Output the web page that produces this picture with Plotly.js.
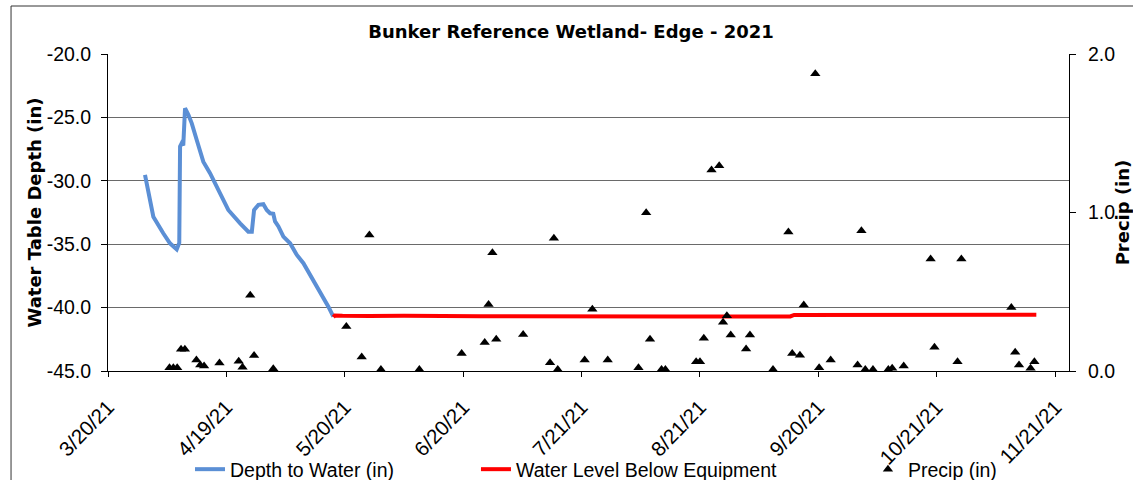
<!DOCTYPE html>
<html>
<head>
<meta charset="utf-8">
<script src="https://cdn.plot.ly/plotly-3.0.1.min.js"></script>
<style>html,body{margin:0;padding:0;background:#fff;} #chart{width:1133px;height:480px;}</style>
</head>
<body>
<div id="chart"></div>
<script>
// ---- Depth to Water (in) ----
const depthDates = ['2021-03-29 15:00','2021-03-31 19:00','2021-04-03 09:00','2021-04-05 03:00','2021-04-06 21:00','2021-04-07 13:00','2021-04-07 18:00','2021-04-08 04:00','2021-04-08 14:00','2021-04-08 19:00','2021-04-09 01:00','2021-04-09 22:00','2021-04-10 19:00','2021-04-12 02:00','2021-04-13 19:00','2021-04-15 13:00','2021-04-17 17:00','2021-04-20 07:00','2021-04-23 09:00','2021-04-25 12:00','2021-04-26 10:00','2021-04-27 00:00','2021-04-28 03:00','2021-04-29 10:00','2021-04-30 07:00','2021-05-01 04:00','2021-05-02 00:00','2021-05-02 11:00','2021-05-03 08:00','2021-05-04 15:00','2021-05-06 09:00','2021-05-08 03:00','2021-05-09 20:00','2021-05-11 14:00','2021-05-13 08:00','2021-05-15 01:00','2021-05-16 08:00','2021-05-17 15:00'];
const depthValues = [-29.54,-32.83,-34.14,-34.93,-35.4,-34.9,-27.3,-27.04,-27.2,-24.4,-24.28,-24.8,-25.47,-26.78,-28.49,-29.4,-30.72,-32.3,-33.35,-34.01,-34.01,-32.3,-31.9,-31.85,-32.3,-32.56,-32.6,-33.2,-33.6,-34.4,-34.93,-35.85,-36.5,-37.43,-38.22,-39.27,-39.93,-40.72];

// ---- Water Level Below Equipment ----
const equipDates = ['2021-05-17 15:00','2021-05-18 00:00','2021-05-20 00:00','2021-05-24 00:00','2021-05-27 00:00','2021-06-05 00:00','2021-06-10 00:00','2021-06-15 00:00','2021-06-25 00:00','2021-07-05 00:00','2021-07-13 00:00','2021-07-20 00:00','2021-08-01 00:00','2021-08-15 00:00','2021-09-01 00:00','2021-09-13 12:00','2021-09-14 12:00','2021-10-01 00:00','2021-10-20 00:00','2021-11-05 00:00','2021-11-16 12:00'];
const equipValues = [-40.75,-40.62,-40.65,-40.62,-40.66,-40.64,-40.68,-40.66,-40.68,-40.67,-40.68,-40.66,-40.7,-40.7,-40.7,-40.7,-40.58,-40.56,-40.56,-40.56,-40.56];

// ---- Precip (in) ----
const precipDates = ['2021-04-05','2021-04-06','2021-04-07','2021-04-08','2021-04-09','2021-04-12','2021-04-13','2021-04-14','2021-04-18','2021-04-23','2021-04-24','2021-04-26','2021-04-27','2021-05-02','2021-05-21','2021-05-25','2021-05-27','2021-05-30','2021-06-09','2021-06-20','2021-06-26','2021-06-27','2021-06-28','2021-06-29','2021-07-06','2021-07-13','2021-07-14','2021-07-15','2021-07-22','2021-07-24','2021-07-28','2021-08-05','2021-08-07','2021-08-08','2021-08-11','2021-08-12','2021-08-20','2021-08-21','2021-08-22','2021-08-24','2021-08-26','2021-08-27','2021-08-28','2021-08-29','2021-09-02','2021-09-03','2021-09-09','2021-09-13','2021-09-14','2021-09-16','2021-09-17','2021-09-20','2021-09-21','2021-09-24','2021-10-01','2021-10-02','2021-10-03','2021-10-05','2021-10-09','2021-10-10','2021-10-13','2021-10-20','2021-10-21','2021-10-27','2021-10-28','2021-11-10','2021-11-11','2021-11-12','2021-11-15','2021-11-16'];
const precipValues = [0.02,0.02,0.02,0.138,0.138,0.069,0.038,0.032,0.05,0.061,0.024,0.478,0.098,0.014,0.28,0.089,0.858,0.01,0.01,0.11,0.18,0.42,0.746,0.2,0.23,0.052,0.837,0.01,0.069,0.39,0.069,0.021,0.999,0.2,0.01,0.01,0.059,0.059,0.206,1.268,1.295,0.307,0.349,0.227,0.139,0.227,0.01,0.877,0.11,0.1,0.416,1.876,0.021,0.069,0.038,0.885,0.01,0.01,0.01,0.017,0.032,0.707,0.15,0.059,0.707,0.4,0.118,0.038,0.017,0.059];

// ---- Axis ticks ----
const xTickVals = ['2021-03-20 00:00','2021-04-19 18:00','2021-05-20 15:00','2021-06-20 10:00','2021-07-21 05:00','2021-08-21 00:00','2021-09-20 19:00','2021-10-21 13:00','2021-11-21 12:00'];
const xTickText = ['3/20/21','4/19/21','5/20/21','6/20/21','7/21/21','8/21/21','9/20/21','10/21/21','11/21/21'];
const yTickVals = [-45,-40,-35,-30,-25,-20];
const yTickText = ['-45.0','-40.0','-35.0','-30.0','-25.0','-20.0'];
const y2TickVals = [0,1,2];
const y2TickText = ['0.0','1.0','2.0'];

const regFont = 'Liberation Sans, Arial, sans-serif';
const boldFont = 'DejaVu Sans, sans-serif';

const traces = [
  {x: depthDates, y: depthValues, type:'scatter', mode:'lines', name:'Depth to Water (in)',
   line:{color:'#5B8FD5', width:4}, legend:'legend'},
  {x: equipDates, y: equipValues, type:'scatter', mode:'lines', name:'Water Level Below Equipment',
   line:{color:'#FF0000', width:4}, legend:'legend2'},
  {x: precipDates, y: precipValues, type:'scatter', mode:'markers', name:'Precip (in)', yaxis:'y2',
   marker:{symbol:'triangle-up', size:9, color:'#000'}, cliponaxis:false, legend:'legend3'}
];

const legendBase = {orientation:'h', yanchor:'middle', xanchor:'left', y:-0.3107,
  bgcolor:'rgba(0,0,0,0)', borderwidth:0, font:{family:regFont, size:19.5, color:'#000'}};

const layout = {
  width:1133, height:480,
  margin:{l:108, r:64, t:54, b:109, pad:0, autoexpand:false},
  paper_bgcolor:'#fff', plot_bgcolor:'#fff',
  font:{family:regFont, size:19.5, color:'#000'},
  showlegend:true,
  title:{text:'Bunker Reference Wetland- Edge - 2021', font:{family:boldFont, size:18, weight:'bold', color:'#000'},
    xref:'paper', x:0.4818, xanchor:'center', yref:'container', y:0.935, yanchor:'middle'},
  xaxis:{type:'date', range:['2021-03-20','2021-11-25'], tickmode:'array', tickvals:xTickVals, ticktext:xTickText,
    tickangle:-46, ticks:'outside', ticklen:5, tickcolor:'#000', showline:true, linecolor:'#000', linewidth:1,
    showgrid:false, zeroline:false, automargin:false, ticklabelstandoff:10, tickfont:{family:regFont, size:20.5}, fixedrange:true},
  yaxis:{range:[-45,-20], tickmode:'array', tickvals:yTickVals, ticktext:yTickText, ticks:'outside', ticklen:6, tickcolor:'#000',
    showline:true, linecolor:'#000', linewidth:1, showgrid:true, gridcolor:'#6a6a6a', gridwidth:1, zeroline:false,
    automargin:false, ticklabelstandoff:6, tickfont:{family:regFont, size:19.5},
    title:{text:'Water Table Depth (in)', font:{family:boldFont, size:18, weight:'bold'}, standoff:0}},
  yaxis2:{overlaying:'y', side:'right', range:[0,2], tickmode:'array', tickvals:y2TickVals, ticktext:y2TickText,
    ticks:'outside', ticklen:6, tickcolor:'#000', showline:true, linecolor:'#000', linewidth:1, showgrid:false, zeroline:false,
    automargin:false, ticklabelstandoff:8, tickfont:{family:regFont, size:19.5},
    title:{text:'Precip (in)', font:{family:boldFont, size:18, weight:'bold'}, standoff:15}},
  legend: Object.assign({}, legendBase, {x:0.0853}),
  legend2: Object.assign({}, legendBase, {x:0.3829}),
  legend3: Object.assign({}, legendBase, {x:0.7908}),
  shapes:[
    {type:'line', xref:'paper', yref:'paper', x0:-0.1009, x1:-0.1009, y0:-0.36, y1:1.1514, line:{color:'#333', width:1}},
    {type:'line', xref:'paper', yref:'paper', x0:-0.1009, x1:1.08, y0:1.1514, y1:1.1514, line:{color:'#333', width:1}}
  ]
};

Plotly.newPlot('chart', traces, layout, {displayModeBar:false, staticPlot:true});
</script>
</body>
</html>
